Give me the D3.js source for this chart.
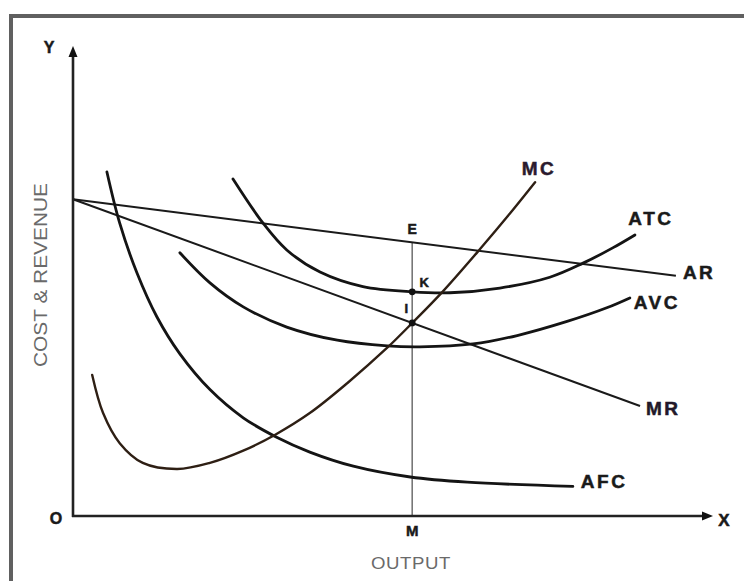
<!DOCTYPE html>
<html><head><meta charset="utf-8">
<script src="https://cdn.jsdelivr.net/npm/d3@7"></script>
<style>html,body{margin:0;padding:0;background:#fff;}svg{display:block;}</style>
</head><body>
<svg id="chart" width="744" height="581"></svg>
<script>
// ---- Data (output units 0-100, cost/revenue units 0-100) ----
const afcX = [5.3, 7.3, 10.0, 13.1, 16.7, 21.4, 26.6, 31.9, 37.0, 43.8, 52.7, 61.6, 78.1];
const afcY = [73.2, 62.3, 51.7, 42.4, 34.5, 26.9, 20.9, 16.7, 13.6, 10.6, 8.3, 7.2, 6.3];
const mcX = [3.0, 4.7, 7.3, 10.9, 16.3, 21.4, 26.6, 31.6, 37.0, 42.8, 49.1, 53.1, 57.8, 63.6, 68.3, 72.2];
const mcY = [30.0, 21.9, 15.5, 11.3, 10.0, 11.3, 13.9, 17.3, 21.9, 28.2, 35.8, 41.2, 47.8, 56.8, 64.4, 71.0];
const atcX = [25.0, 29.7, 33.4, 38.6, 45.3, 53.0, 58.9, 66.7, 74.5, 79.7, 84.4, 87.8];
const atcY = [71.7, 62.3, 56.6, 51.9, 48.8, 47.7, 47.5, 48.5, 50.8, 53.8, 57.1, 59.8];
const avcX = [16.7, 21.4, 26.6, 33.4, 41.3, 49.1, 54.2, 62.5, 69.4, 77.2, 83.4, 87.0];
const avcY = [56.0, 49.6, 44.5, 40.2, 37.4, 36.2, 36.0, 36.6, 38.4, 41.4, 44.3, 46.4];
const arX = [0, 94.2];
const arY = [67.4, 51.1];
const mrX = [0, 88.6];
const mrY = [67.4, 23.4];
const outputQ = 53;          // M
const pointK = 47.7;         // ATC at M
const curveNames = ["AFC", "MC", "ATC", "AVC", "AR", "MR"];

const svg = d3.select("#chart");
const x = d3.scaleLinear().domain([0, 100]).range([73, 713]);
const y = d3.scaleLinear().domain([0, 100]).range([516, 46]);

// frame
svg.append("rect").attr("x", 11).attr("y", 16).attr("width", 800).attr("height", 700)
  .attr("fill", "#fff").attr("stroke", "#606060").attr("stroke-width", 4);

const zip = (xs, ys) => xs.map((v, i) => [v, ys[i]]);
const lineGen = d3.line().x(d => x(d[0])).y(d => y(d[1])).curve(d3.curveCatmullRom.alpha(0.5));
const straight = d3.line().x(d => x(d[0])).y(d => y(d[1]));

const series = {
  AFC: zip(afcX, afcY), MC: zip(mcX, mcY), ATC: zip(atcX, atcY),
  AVC: zip(avcX, avcY), AR: zip(arX, arY), MR: zip(mrX, mrY)
};

// vertical line at M
const yE = arY[0] + (arY[1] - arY[0]) * outputQ / arX[1];
const yI = mrY[0] + (mrY[1] - mrY[0]) * outputQ / mrX[1];
svg.append("line").attr("x1", x(outputQ)).attr("x2", x(outputQ))
  .attr("y1", y(yE)).attr("y2", y(0)).attr("stroke", "#777").attr("stroke-width", 1.6);

// straight lines
["AR", "MR"].forEach(k => {
  svg.append("path").attr("d", straight(series[k])).attr("fill", "none")
    .attr("stroke", "#1a1a1a").attr("stroke-width", 2);
});
// curves
["AFC", "ATC", "AVC"].forEach(k => {
  svg.append("path").attr("d", lineGen(series[k])).attr("fill", "none")
    .attr("stroke", "#141414").attr("stroke-width", 2.8).attr("stroke-linecap", "round");
});
svg.append("path").attr("d", lineGen(series.MC)).attr("fill", "none")
  .attr("stroke", "#2e1f14").attr("stroke-width", 2.4).attr("stroke-linecap", "round");

// axes
svg.append("line").attr("x1", x(0)).attr("x2", x(0)).attr("y1", y(0) + 1).attr("y2", y(99))
  .attr("stroke", "#222").attr("stroke-width", 2.6);
svg.append("line").attr("x1", x(0) - 1).attr("x2", x(99)).attr("y1", y(0)).attr("y2", y(0))
  .attr("stroke", "#222").attr("stroke-width", 2.6);
svg.append("path").attr("d", `M${x(0)},${y(100)} l-4.5,11 l9,0 Z`).attr("fill", "#111");
svg.append("path").attr("d", `M${x(100)},${y(0)} l-11,-4.5 l0,9 Z`).attr("fill", "#111");

// dots K and I
[pointK, yI].forEach(v => {
  svg.append("circle").attr("cx", x(outputQ)).attr("cy", y(v)).attr("r", 3.4).attr("fill", "#111");
});

const font = "'Liberation Sans', Arial, sans-serif";
function label(t, px, py, size, anchor, opts = {}) {
  return svg.append("text").attr("x", px).attr("y", py).text(t)
    .attr("font-family", font).attr("font-size", size)
    .attr("font-weight", opts.weight || "bold")
    .attr("fill", opts.fill || "#1a1a1a")
    .attr("text-anchor", anchor).attr("dominant-baseline", "central")
    .attr("letter-spacing", opts.ls || 0)
    .attr("stroke", opts.weight === "normal" ? "none" : (opts.fill || "#1a1a1a"))
    .attr("stroke-width", opts.weight === "normal" ? 0 : 0.5);
}

// curve labels
const endOf = k => series[k][series[k].length - 1];
const lab = { size: 19, ls: 2.5 };
label("MC", x(endOf("MC")[0]) + 4, y(endOf("MC")[1]) - 14, lab.size, "middle", { ls: lab.ls, fill: "#2a1a2e" });
label("ATC", x(endOf("ATC")[0]) + 16, y(endOf("ATC")[1]) - 16, lab.size, "middle", { ls: lab.ls });
label("AR", x(endOf("AR")[0]) + 7, y(endOf("AR")[1]) - 3, lab.size, "start", { ls: lab.ls });
label("AVC", x(endOf("AVC")[0]) + 4, y(endOf("AVC")[1]) + 5, lab.size, "start", { ls: lab.ls });
label("MR", x(endOf("MR")[0]) + 6, y(endOf("MR")[1]) + 2, lab.size, "start", { ls: lab.ls, fill: "#22182a" });
label("AFC", x(endOf("AFC")[0]) + 8, y(endOf("AFC")[1]) - 5, lab.size, "start", { ls: lab.ls });

// axis / point labels
label("Y", 49, 47, 16, "middle");
label("X", 724, 520, 17, "middle");
label("O", 56, 518, 16, "middle");
label("M", x(outputQ), 530, 15, "middle");
label("E", x(outputQ), 229, 14, "middle");
label("K", x(outputQ) + 12, 282, 13, "middle");
label("I", x(outputQ) - 6, 308, 13, "middle");

label("OUTPUT", 411, 563, 16, "middle", { weight: "normal", fill: "#6a6a6a", ls: 0.5 })
  .attr("textLength", 80).attr("lengthAdjust", "spacingAndGlyphs");
label("COST & REVENUE", 0, 0, 18, "middle", { weight: "normal", fill: "#6a6a6a" })
  .attr("transform", "translate(41,275) rotate(-90)")
  .attr("textLength", 184).attr("lengthAdjust", "spacingAndGlyphs");
</script>
</body></html>
